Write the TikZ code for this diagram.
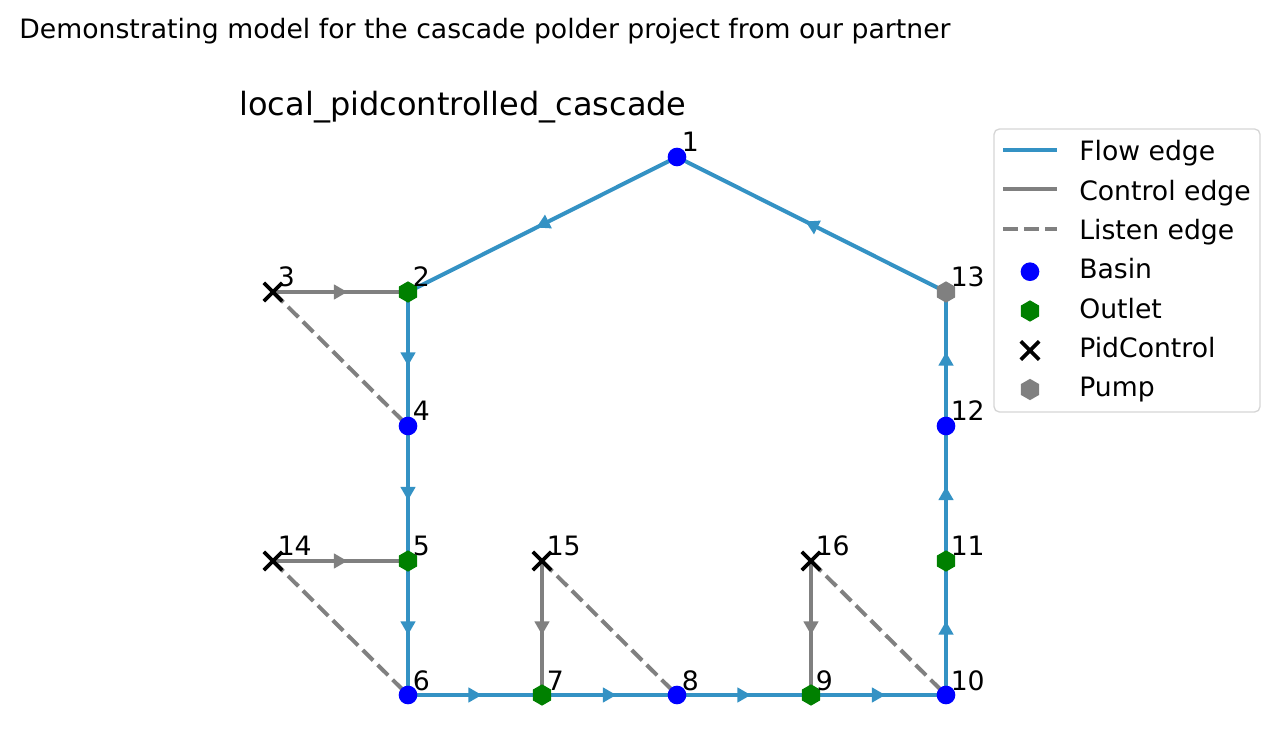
\documentclass[tikz,border=0pt]{standalone}
\usepackage{fontspec}
\setmainfont{DejaVu Sans}
\usetikzlibrary{shapes.geometric,shapes.misc,decorations.markings,backgrounds}
\definecolor{flowc}{RGB}{52,146,196}
\definecolor{outletc}{RGB}{0,128,0}
\definecolor{legc}{RGB}{214,214,214}
\tikzset{
  basin/.style={circle, fill=blue, minimum size=14pt, inner sep=0pt},
  outlet/.style={regular polygon, regular polygon sides=6, shape border rotate=30, fill=outletc, minimum size=16pt, inner sep=0pt},
  pump/.style={outlet, fill=gray},
  pid/.style={cross out, draw=black, line width=2.7pt, minimum size=11pt, inner sep=0pt},
  lbl/.style={anchor=base west, inner sep=0pt, font=\fontsize{20}{24}\selectfont},
  legtxt/.style={anchor=base west, inner sep=0pt, font=\fontsize{20}{24}\selectfont},
  midarrow/.style={decoration={markings, mark=at position 0.5 with {\fill[#1] (-5pt,-5.8pt)--(5pt,0pt)--(-5pt,5.8pt)--cycle;}}, postaction={decorate}},
  flow/.style={draw=flowc, line width=3pt, midarrow=flowc},
  control/.style={draw=gray, line width=3pt, midarrow=gray},
  listen/.style={draw=gray, line width=3pt, dash pattern=on 11pt off 4.8pt},
}
\begin{document}
\begin{tikzpicture}[x=0.75pt,y=-0.75pt]
\useasboundingbox (0,0) rectangle (1279,741);
% titles
\node[anchor=base, inner sep=0pt, font=\fontsize{20}{24}\selectfont] (sup) at (485,39) {Demonstrating model for the cascade polder project from our partner};
\node[anchor=base, inner sep=0pt, font=\fontsize{24}{28}\selectfont] (ttl) at (463,116) {local\_pidcontrolled\_cascade};
% nodes
\node[basin] (n1) at (677,157) {};
\node[outlet] (n2) at (408,292) {};
\node[pid] (n3) at (273,292) {};
\node[basin] (n4) at (408,426) {};
\node[outlet] (n5) at (408,561) {};
\node[basin] (n6) at (408,695) {};
\node[outlet] (n7) at (542,695) {};
\node[basin] (n8) at (677,695) {};
\node[outlet] (n9) at (811,695) {};
\node[basin] (n10) at (946,695) {};
\node[outlet] (n11) at (946,561) {};
\node[basin] (n12) at (946,426) {};
\node[pump] (n13) at (946,292) {};
\node[pid] (n14) at (273,561) {};
\node[pid] (n15) at (542,561) {};
\node[pid] (n16) at (811,561) {};
% labels
\node[lbl] (l1) at (681.5,152) {1};
\node[lbl] (l2) at (412.5,287) {2};
\node[lbl] (l3) at (277.5,287) {3};
\node[lbl] (l4) at (412.5,421) {4};
\node[lbl] (l5) at (412.5,556) {5};
\node[lbl] (l6) at (412.5,690) {6};
\node[lbl] (l7) at (546.5,690) {7};
\node[lbl] (l8) at (681.5,690) {8};
\node[lbl] (l9) at (815.5,690) {9};
\node[lbl] (l10) at (950.5,690) {10};
\node[lbl] (l11) at (950.5,556) {11};
\node[lbl] (l12) at (950.5,421) {12};
\node[lbl] (l13) at (950.5,287) {13};
\node[lbl] (l14) at (277.5,556) {14};
\node[lbl] (l15) at (546.5,556) {15};
\node[lbl] (l16) at (815.5,556) {16};
% edges
\begin{scope}[on background layer]
\draw[flow] (n13.center) -- (n1.center);
\draw[flow] (n1.center) -- (n2.center);
\draw[flow] (n2.center) -- (n4.center);
\draw[flow] (n4.center) -- (n5.center);
\draw[flow] (n5.center) -- (n6.center);
\draw[flow] (n6.center) -- (n7.center);
\draw[flow] (n7.center) -- (n8.center);
\draw[flow] (n8.center) -- (n9.center);
\draw[flow] (n9.center) -- (n10.center);
\draw[flow] (n10.center) -- (n11.center);
\draw[flow] (n11.center) -- (n12.center);
\draw[flow] (n12.center) -- (n13.center);
\draw[control] (n3.center) -- (n2.center);
\draw[control] (n14.center) -- (n5.center);
\draw[control] (n15.center) -- (n7.center);
\draw[control] (n16.center) -- (n9.center);
\draw[listen] (n3.center) -- (n4.center);
\draw[listen] (n14.center) -- (n6.center);
\draw[listen] (n15.center) -- (n8.center);
\draw[listen] (n16.center) -- (n10.center);
\end{scope}
% legend
\draw[legc, line width=1pt, rounded corners=4pt, fill=white] (994,129) rectangle (1260,412);
\draw[flowc, line width=3pt] (1003,150) -- (1057,150);
\draw[gray, line width=3pt] (1003,189.3) -- (1057,189.3);
\draw[gray, line width=3pt, dash pattern=on 11pt off 4.8pt] (1003,228.7) -- (1057,228.7);
\node[basin] (k1) at (1030,271.7) {};
\node[outlet] (k2) at (1030,311) {};
\node[pid] (k3) at (1030,350.5) {};
\node[pump] (k4) at (1030,389.5) {};
\node[legtxt] (t1) at (1079,161) {Flow edge};
\node[legtxt] (t2) at (1079,200.3) {Control edge};
\node[legtxt] (t3) at (1079,239.6) {Listen edge};
\node[legtxt] (t4) at (1079,279) {Basin};
\node[legtxt] (t5) at (1079,318.2) {Outlet};
\node[legtxt] (t6) at (1079,357.5) {PidControl};
\node[legtxt] (t7) at (1079,396.8) {Pump};
\end{tikzpicture}
\end{document}
